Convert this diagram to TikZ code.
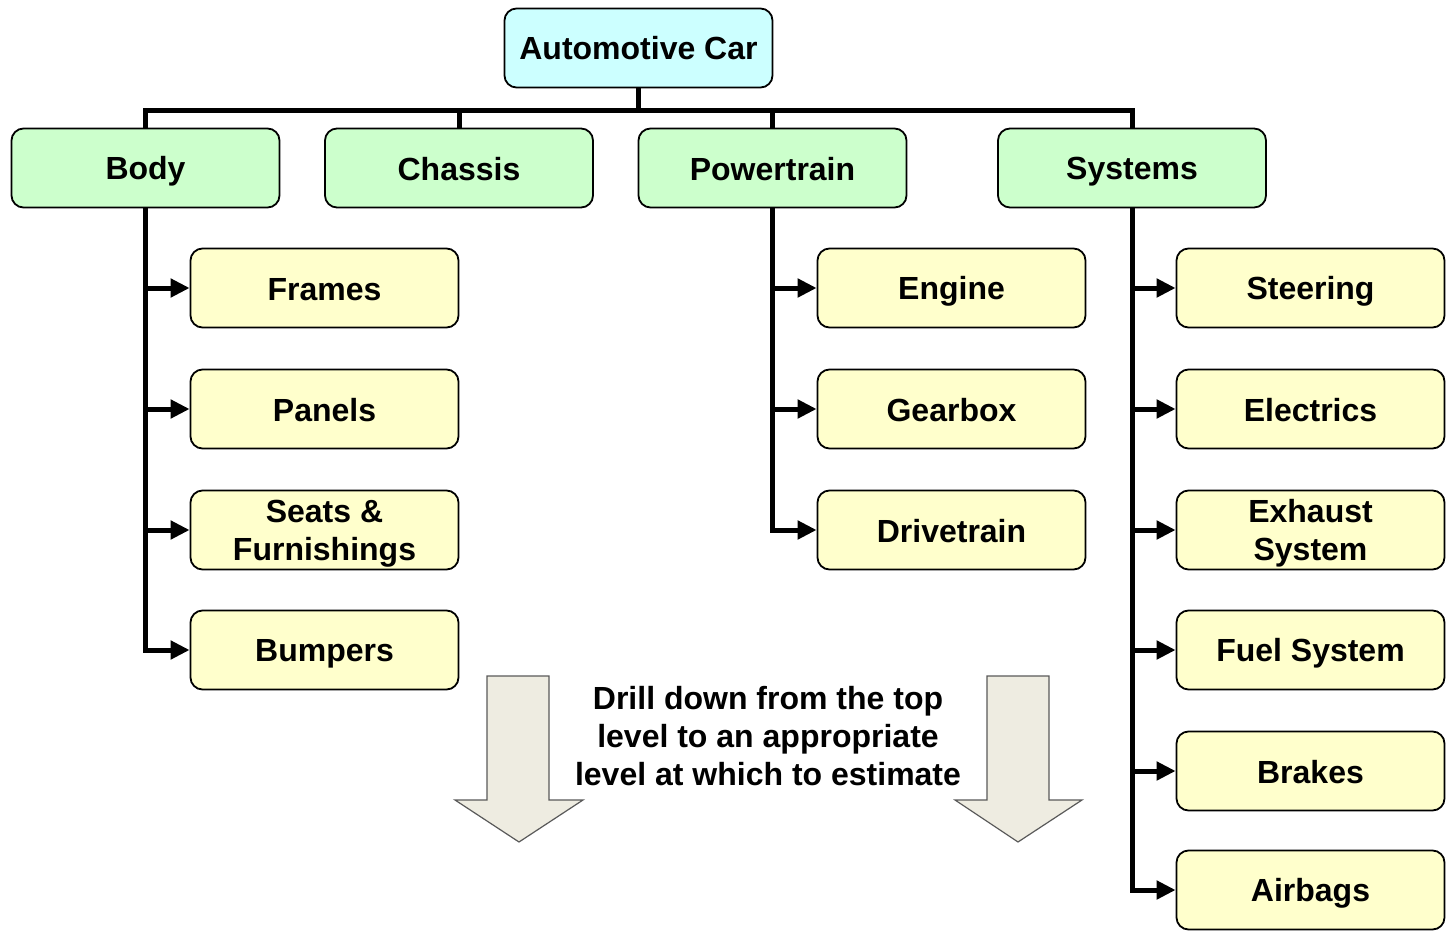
\documentclass[tikz,border=0pt]{standalone}
\usepackage{fontspec}
\setmainfont{Liberation Sans}
\usetikzlibrary{arrows.meta}
\definecolor{topfill}{HTML}{CCFFFF}
\definecolor{lvlfill}{HTML}{CCFFCC}
\definecolor{subfill}{HTML}{FFFFCC}
\definecolor{blkfill}{HTML}{EEECE1}
\definecolor{blkline}{HTML}{595959}
\newcommand\bs{\rule[-6pt]{0pt}{36pt}}
\tikzset{
  boxbase/.style={draw=black, line width=1.8pt, rounded corners=12pt, minimum width=268pt, minimum height=79pt, inner sep=0pt, align=center, font=\fontsize{32}{38}\selectfont\bfseries},
  topbox/.style={boxbase, fill=topfill},
  lvlbox/.style={boxbase, fill=lvlfill},
  subbox/.style={boxbase, fill=subfill},
  conn/.style={line width=5pt, line join=miter},
  arr/.style={conn, -{Triangle[length=19pt,width=18pt]}},
  blkarrow/.style={draw=blkline, line width=1.2pt, fill=blkfill, line join=miter},
  note/.style={align=center, font=\fontsize{32}{38}\selectfont\bfseries, inner sep=0pt}
}
\begin{document}
\begin{tikzpicture}[x=1pt,y=-1pt]
\useasboundingbox (0,0) rectangle (1451,931);
% top
\node[topbox] (top) at (638.5,48) {\bs Automotive Car};
% level 1
\node[lvlbox] (body) at (145.5,168) {\bs Body};
\node[lvlbox] (chassis) at (459,168) {\bs Chassis};
\node[lvlbox] (power) at (772.5,168) {\bs Powertrain};
\node[lvlbox] (sys) at (1132,168) {\bs Systems};
% body subs
\node[subbox] (frames) at (324.5,288) {\bs Frames};
\node[subbox] (panels) at (324.5,409) {\bs Panels};
\node[subbox] (seats) at (324.5,530) {\bs Seats \&\\\bs Furnishings};
\node[subbox] (bumpers) at (324.5,650) {\bs Bumpers};
% powertrain subs
\node[subbox] (engine) at (951.5,288) {\bs Engine};
\node[subbox] (gearbox) at (951.5,409) {\bs Gearbox};
\node[subbox] (drive) at (951.5,530) {\bs Drivetrain};
% systems subs
\node[subbox] (steer) at (1310.5,288) {\bs Steering};
\node[subbox] (elec) at (1310.5,409) {\bs Electrics};
\node[subbox] (exhaust) at (1310.5,530) {\bs Exhaust\\\bs System};
\node[subbox] (fuel) at (1310.5,650) {\bs Fuel System};
\node[subbox] (brakes) at (1310.5,771) {\bs Brakes};
\node[subbox] (airbags) at (1310.5,890) {\bs Airbags};
% bus
\coordinate (busy) at (0,111);
\draw[conn] (body.north) -- (body.north |- busy) -- (sys.north |- busy) -- (sys.north);
\draw[conn] (chassis.north) -- (chassis.north |- busy);
\draw[conn] (power.north) -- (power.north |- busy);
\draw[conn] (top.south) -- (top.south |- busy);
% body trunk
\draw[arr] (body.south) |- (bumpers.west);
\draw[arr] (body.south |- frames.west) -- (frames.west);
\draw[arr] (body.south |- panels.west) -- (panels.west);
\draw[arr] (body.south |- seats.west) -- (seats.west);
% powertrain trunk
\draw[arr] (power.south) |- (drive.west);
\draw[arr] (power.south |- engine.west) -- (engine.west);
\draw[arr] (power.south |- gearbox.west) -- (gearbox.west);
% systems trunk
\draw[arr] (sys.south) |- (airbags.west);
\draw[arr] (sys.south |- steer.west) -- (steer.west);
\draw[arr] (sys.south |- elec.west) -- (elec.west);
\draw[arr] (sys.south |- exhaust.west) -- (exhaust.west);
\draw[arr] (sys.south |- fuel.west) -- (fuel.west);
\draw[arr] (sys.south |- brakes.west) -- (brakes.west);
% block arrows
\draw[blkarrow] (487,676) -- (549,676) -- (549,800) -- (583,800) -- (519,842) -- (455,800) -- (487,800) -- cycle;
\draw[blkarrow] (987,676) -- (1049,676) -- (1049,800) -- (1082,800) -- (1018,842) -- (955,800) -- (987,800) -- cycle;
% note
\node[note] (drill) at (768,736) {Drill down from the top\\level to an appropriate\\level at which to estimate};
\end{tikzpicture}
\end{document}
